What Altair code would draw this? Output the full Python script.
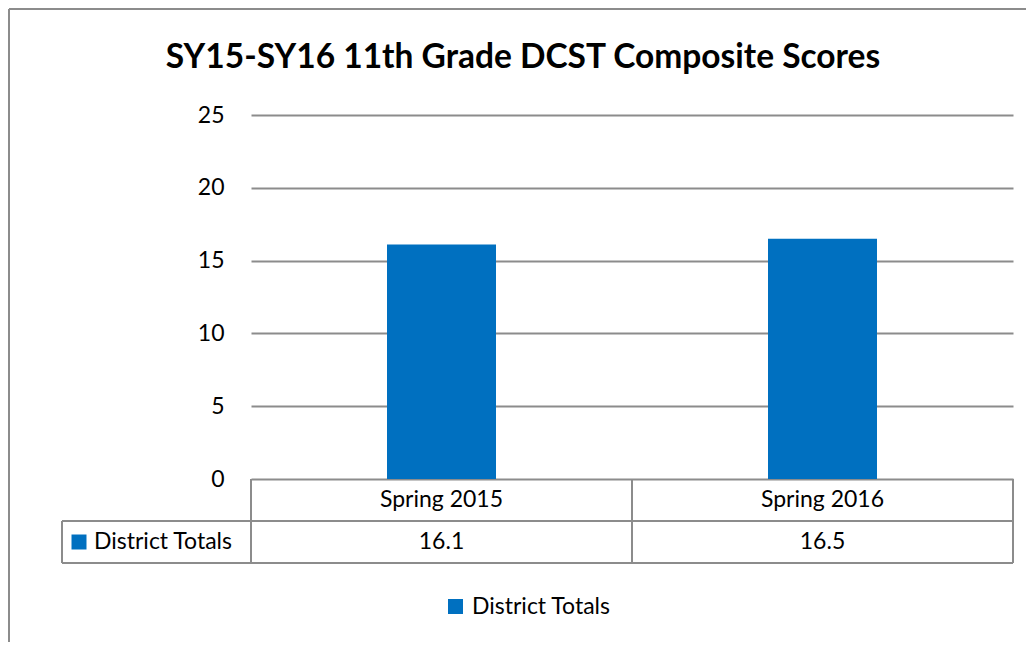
import altair as alt
import pandas as pd

# ---- data ----
categories = ["Spring 2015", "Spring 2016"]
scores = [16.1, 16.5]
series_name = ["District Totals", "District Totals"]
y_ticks = [0, 5, 10, 15, 20, 25]
title_text = "SY15-SY16 11th Grade DCST Composite Scores"

df = pd.DataFrame({"period": categories, "score": scores, "series": series_name})
one = pd.DataFrame({"series": [series_name[0]]})

# ---- style ----
W, H = 762, 364
FONT = "Lato"
BLUE = "#0070C0"
GRID = "#8C8C8C"
FS = 23

x_axis = alt.Axis(title=None, labels=False, ticks=False, domainColor=GRID,
                  domainWidth=2, grid=False)
x_scale = alt.Scale(paddingInner=0, paddingOuter=0)
x_enc = alt.X("period:N", sort=categories, scale=x_scale, axis=x_axis)
x_plain = alt.X("period:N", sort=categories, scale=x_scale, axis=None)

y_enc = alt.Y("score:Q", scale=alt.Scale(domain=[0, 25], nice=False),
              axis=alt.Axis(values=y_ticks, title=None, domain=False, ticks=False,
                            grid=True, gridColor=GRID, gridWidth=2,
                            labelFont=FONT, labelFontSize=FS, labelColor="black",
                            labelPadding=27))

bars = alt.Chart(df).mark_bar(width=alt.RelativeBandSize(109 / 381)).encode(
    x=x_enc, y=y_enc,
    color=alt.Color("series:N", scale=alt.Scale(range=[BLUE]),
                    legend=alt.Legend(orient="none", legendX=193, legendY=480,
                                      title=None, symbolType="square", symbolSize=225,
                                      symbolStrokeWidth=0, labelFont=FONT,
                                      labelFontSize=FS, labelColor="black",
                                      labelOffset=5, padding=0)),
)

cat_txt = alt.Chart(df).mark_text(font=FONT, fontSize=FS, color="black",
                                  baseline="middle").encode(
    x=x_plain, y=alt.value(385), text="period:N")

values_txt = alt.Chart(df).mark_text(font=FONT, fontSize=FS, color="black",
                                     baseline="middle").encode(
    x=x_plain, y=alt.value(427), text=alt.Text("score:Q", format=".1f"))

# data-table lines
band_edges = alt.Chart(df).mark_rule(color=GRID, strokeWidth=2).encode(
    x=alt.X("period:N", sort=categories, scale=x_scale, axis=None, bandPosition=0),
    y=alt.value(H), y2=alt.value(448))
right_edge = alt.Chart(one).mark_rule(color=GRID, strokeWidth=2).encode(
    x=alt.value(W), y=alt.value(H), y2=alt.value(448))
hline1 = alt.Chart(one).mark_rule(color=GRID, strokeWidth=2).encode(
    x=alt.value(-189), x2=alt.value(W), y=alt.value(406))
hline2 = alt.Chart(one).mark_rule(color=GRID, strokeWidth=2).encode(
    x=alt.value(-189), x2=alt.value(W), y=alt.value(448))
vline = alt.Chart(one).mark_rule(color=GRID, strokeWidth=2).encode(
    x=alt.value(-189), y=alt.value(406), y2=alt.value(448))

key_sq = alt.Chart(one).mark_square(size=225, color=BLUE, opacity=1).encode(
    x=alt.value(-172), y=alt.value(427))
key_txt = alt.Chart(one).mark_text(font=FONT, fontSize=FS, color="black",
                                   align="left", baseline="middle").encode(
    x=alt.value(-157), y=alt.value(427), text="series:N")

# outer chart border (top and left)
border_top = alt.Chart(one).mark_rule(color=GRID, strokeWidth=2).encode(
    x=alt.value(-242), x2=alt.value(W + 13), y=alt.value(-106))
border_left = alt.Chart(one).mark_rule(color=GRID, strokeWidth=2).encode(
    x=alt.value(-242), y=alt.value(-106), y2=alt.value(H + 163))

chart = alt.layer(
    bars, cat_txt, values_txt, band_edges, right_edge, hline1, hline2, vline,
    key_sq, key_txt, border_top, border_left
).properties(
    width=W, height=H,
    background="white",
    title=alt.TitleParams(text=title_text, font=FONT, fontSize=33.5, fontWeight="bold",
                          color="black", anchor="middle", frame="group", dx=-109,
                          offset=0, dy=67),
    autosize=alt.AutoSizeParams(type="none"),
    padding={"left": 243, "top": 107, "right": 13, "bottom": 163},
).configure_view(stroke=None)

chart.save("out.html", embed_options={"renderer": "svg", "actions": False})
